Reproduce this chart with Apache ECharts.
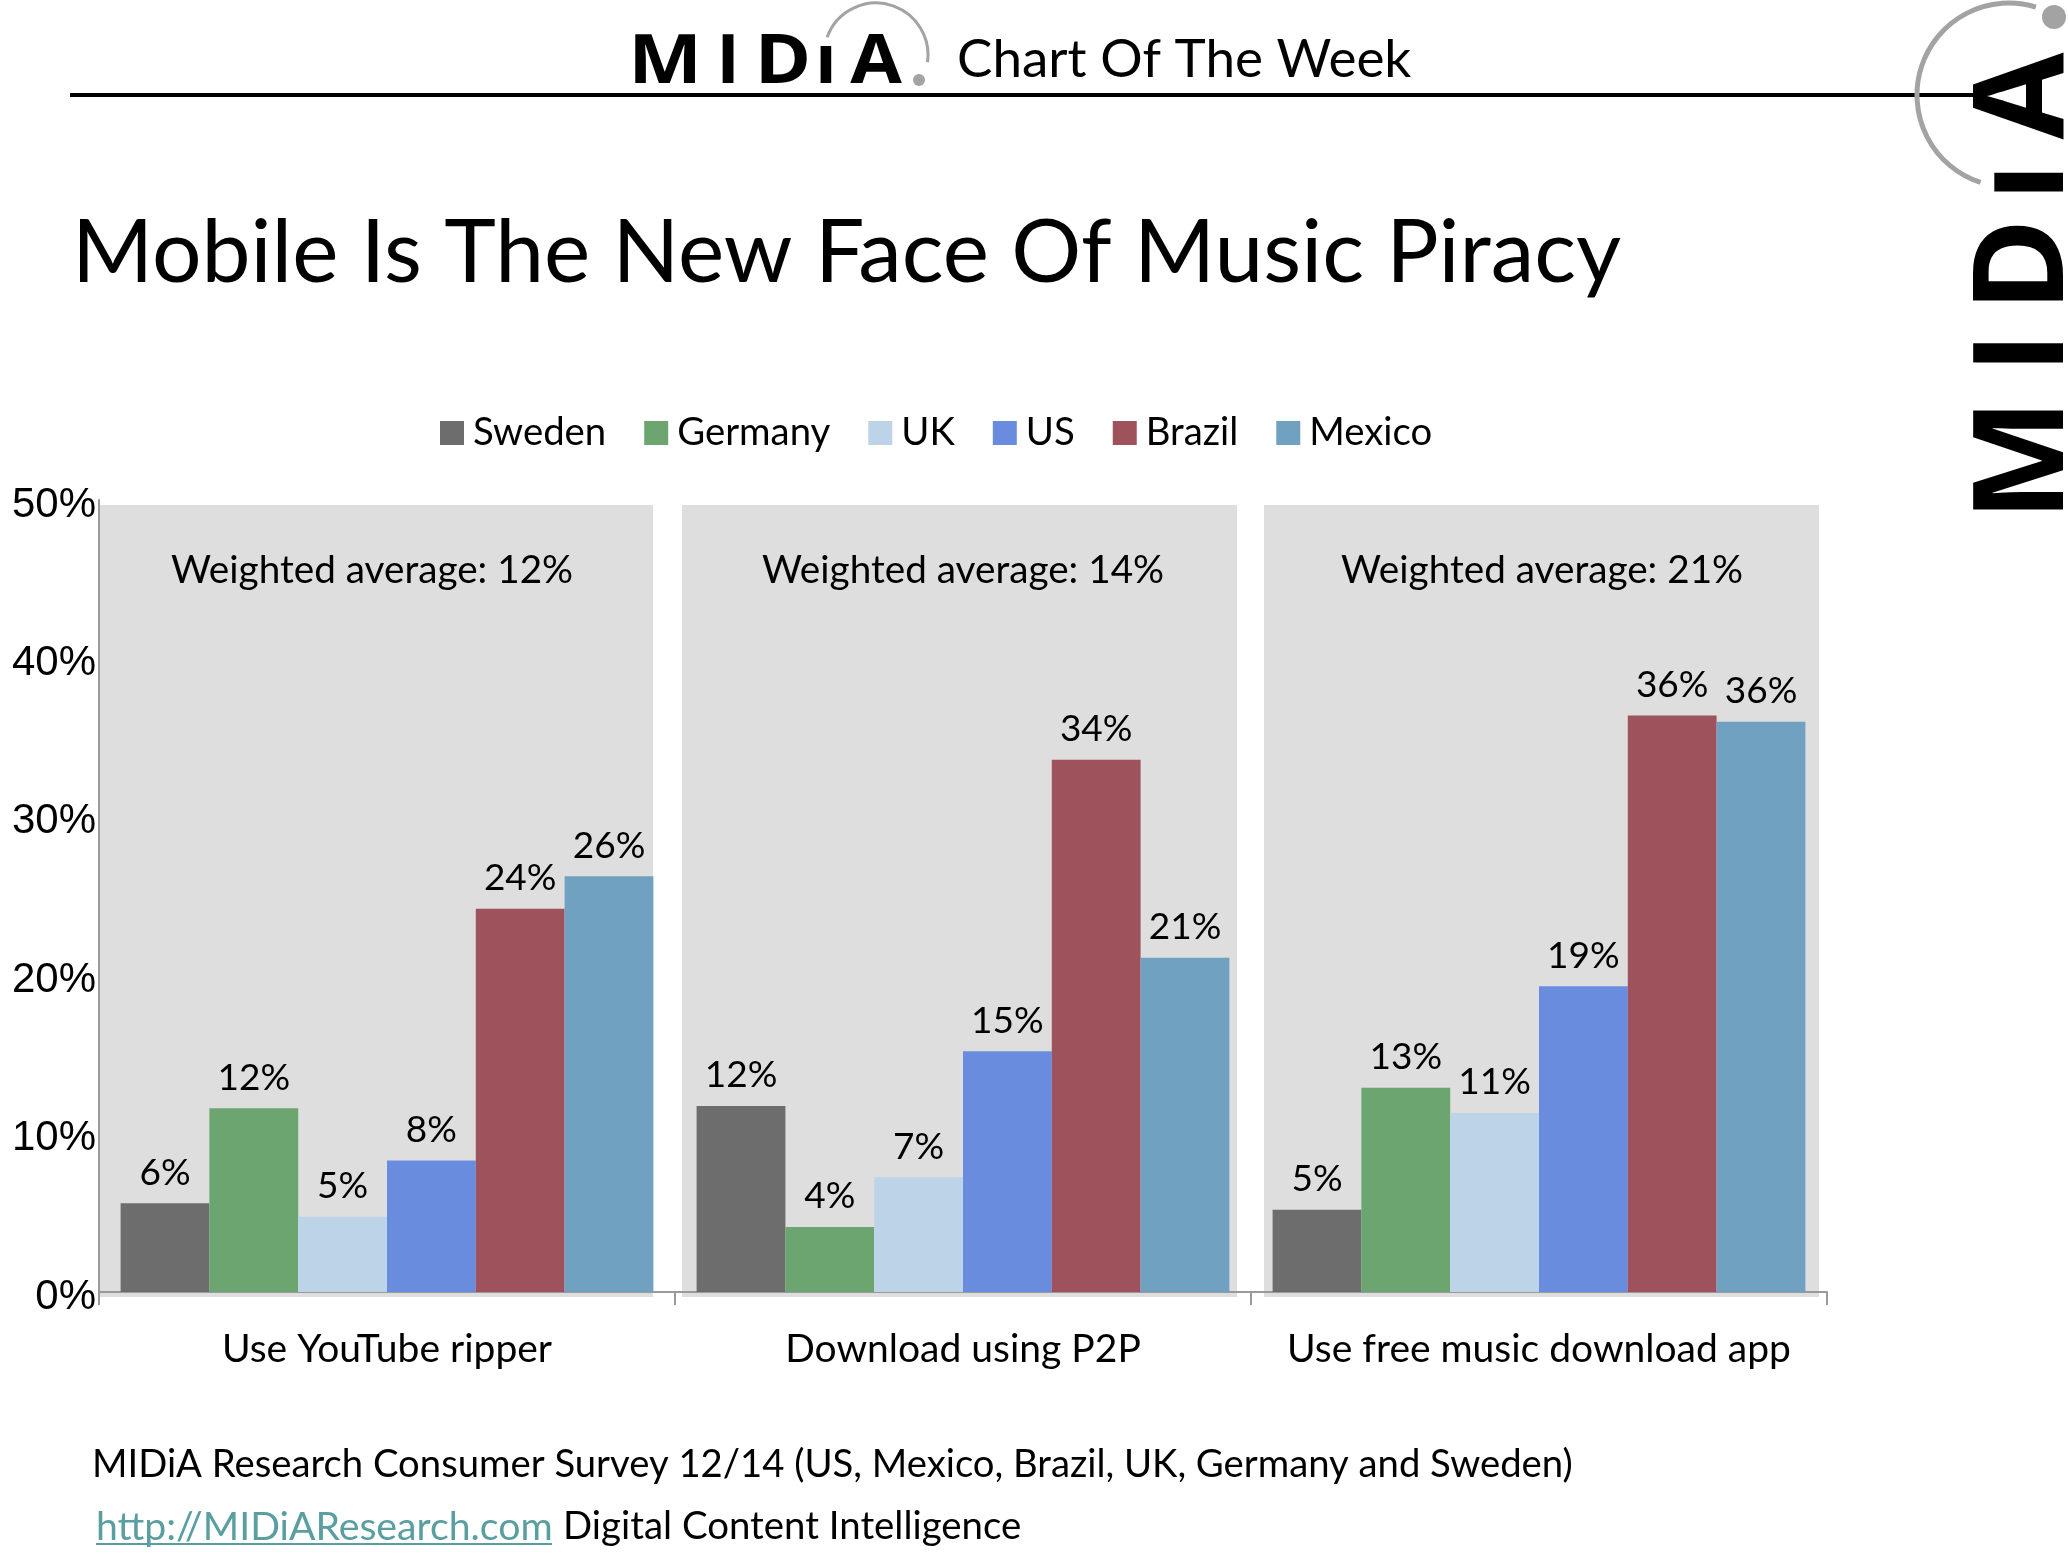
<!DOCTYPE html>
<html>
<head>
<meta charset="utf-8">
<title>Mobile Is The New Face Of Music Piracy</title>
<style>
html, body { margin: 0; padding: 0; background: #fff; }
#main { width: 2068px; height: 1556px; }
</style>
<script src="https://cdn.jsdelivr.net/npm/echarts@6/dist/echarts.min.js"></script>
</head>
<body>
<div id="main"></div>
<script>
var categories = ['Use YouTube ripper', 'Download using P2P', 'Use free music download app'];
var sweden = [5.6, 11.75, 5.2];
var germany = [11.6, 4.1, 12.9];
var uk = [4.75, 7.25, 11.3];
var us = [8.3, 15.2, 19.3];
var brazil = [24.2, 33.6, 36.4];
var mexico = [26.25, 21.1, 36.0];
var averages = ['Weighted average: 12%', 'Weighted average: 14%', 'Weighted average: 21%'];
var yTicks = [0, 10, 20, 30, 40, 50];

var BODY_FONT = 'Lato';
var LOGO_FONT = '"Open Sans"';

var myChart = echarts.init(document.getElementById('main'));

function makeSeries(name, values, color) {
    return {
        name: name,
        type: 'bar',
        data: values,
        itemStyle: { color: color },
        label: {
            show: true,
            position: 'top',
            distance: 12,
            fontFamily: BODY_FONT,
            fontSize: 37,
            color: '#000',
            formatter: function (p) { return Math.round(p.value) + '%'; }
        }
    };
}

function text(str, x, y, size, extra) {
    var style = {
        text: str,
        x: x,
        y: y,
        fontFamily: BODY_FONT,
        fontSize: size,
        fill: '#000',
        align: 'left',
        verticalAlign: 'middle'
    };
    for (var k in extra) { style[k] = extra[k]; }
    return { type: 'text', z: 5, style: style };
}

function logoLetter(ch, x, y, size, sx, sy, rot) {
    return {
        type: 'text',
        z: 6,
        x: x,
        y: y,
        rotation: rot,
        scaleX: sx,
        scaleY: sy,
        style: {
            text: ch,
            fontFamily: LOGO_FONT,
            fontWeight: 700,
            fontSize: size,
            fill: '#000',
            align: 'center',
            verticalAlign: 'middle'
        }
    };
}

function logoArc(cx, cy, r, from, to, width) {
    return {
        type: 'arc',
        z: 6,
        shape: { cx: cx, cy: cy, r: r, startAngle: from * Math.PI / 180, endAngle: to * Math.PI / 180, clockwise: true },
        style: { stroke: '#a3a3a3', lineWidth: width, fill: null }
    };
}

function logoDot(cx, cy, r) {
    return { type: 'circle', z: 6, shape: { cx: cx, cy: cy, r: r }, style: { fill: '#a3a3a3' } };
}

function panel(x, w) {
    return { type: 'rect', z: -1, shape: { x: x, y: 505, width: w, height: 792 }, style: { fill: '#dedede' } };
}

var graphics = [
    panel(99, 554), panel(682, 555), panel(1264, 555),

    // header rule
    { type: 'rect', z: 1, shape: { x: 70, y: 93, width: 1903, height: 4 }, style: { fill: '#000' } },

    // small logo
    logoLetter('M', 665, 64, 68, 1.15, 1, 0),
    logoLetter('I', 728, 64, 68, 1.05, 1, 0),
    logoLetter('D', 783, 64, 68, 1.12, 1, 0),
    logoLetter('ı', 826, 64, 68, 1.05, 1, 0),
    logoLetter('A', 876, 64, 68, 1.1, 1, 0),
    logoArc(876, 55, 52, 200, 368, 3),
    logoDot(919, 80, 6),

    // big rotated logo
    logoLetter('M', 2027, 460, 126, 1.03, 1, Math.PI / 2),
    logoLetter('I', 2027, 353, 126, 1, 1, Math.PI / 2),
    logoLetter('D', 2027, 265, 126, 1, 1, Math.PI / 2),
    logoLetter('ı', 2027, 182, 126, 1, 1, Math.PI / 2),
    logoLetter('A', 2027, 96, 126, 1, 1, Math.PI / 2),
    logoArc(2009, 95, 92, 108, 287, 5),
    logoDot(2054, 17, 12),

    text('Chart Of The Week', 957, 60, 53),
    text('Mobile Is The New Face Of Music Piracy', 72, 254, 87.5),

    text(averages[0], 372, 571, 38.7, { align: 'center' }),
    text(averages[1], 963, 571, 38.7, { align: 'center' }),
    text(averages[2], 1542, 571, 38.7, { align: 'center' }),

    text('MIDiA Research Consumer Survey 12/14 (US, Mexico, Brazil, UK, Germany and Sweden)', 92, 1465, 38.25),
    text('http://MIDiAResearch.com', 96, 1527, 39.2, { fill: '#5a9ea0' }),
    { type: 'rect', z: 5, shape: { x: 96, y: 1543, width: 456, height: 2 }, style: { fill: '#5a9ea0' } },
    text('Digital Content Intelligence', 563, 1527, 38.4)
];

var option = {
    backgroundColor: '#fff',
    animation: false,
    legend: {
        left: 435,
        top: 409,
        itemWidth: 24,
        itemHeight: 24,
        itemGap: 38,
        icon: 'rect',
        textStyle: { fontFamily: BODY_FONT, fontSize: 38.3, color: '#000', padding: [0, 0, 0, 4] },
        data: ['Sweden', 'Germany', 'UK', 'US', 'Brazil', 'Mexico']
    },
    grid: { left: 99, right: 241, top: 500, bottom: 264 },
    xAxis: {
        type: 'category',
        data: categories,
        axisLine: { lineStyle: { color: '#9a9a9a', width: 2 } },
        axisTick: { show: true, length: 13, lineStyle: { color: '#9a9a9a', width: 2 } },
        axisLabel: { interval: 0, fontFamily: BODY_FONT, fontSize: 39, color: '#000', margin: 38 }
    },
    yAxis: {
        type: 'value',
        min: yTicks[0],
        max: yTicks[yTicks.length - 1],
        interval: 10,
        splitLine: { show: false },
        axisLine: { show: true, lineStyle: { color: '#9a9a9a', width: 2 } },
        axisTick: { show: false },
        axisLabel: {
            fontFamily: '"Liberation Sans"',
            fontSize: 42,
            color: '#000',
            margin: 3,
            verticalAlign: 'top',
            lineHeight: 10,
            formatter: '{value}%'
        }
    },
    graphic: graphics,
    series: [
        Object.assign(makeSeries('Sweden', sweden, '#6d6d6d'), { barGap: 0, barCategoryGap: '7.5%' }),
        makeSeries('Germany', germany, '#6ca570'),
        makeSeries('UK', uk, '#bcd3e8'),
        makeSeries('US', us, '#6a8cde'),
        makeSeries('Brazil', brazil, '#9e525c'),
        makeSeries('Mexico', mexico, '#70a1c0')
    ]
};
myChart.setOption(option);
</script>
</body>
</html>
